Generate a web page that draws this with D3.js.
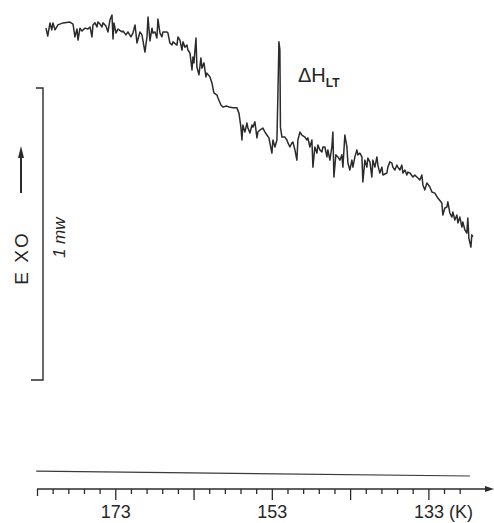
<!DOCTYPE html>
<html>
<head>
<meta charset="utf-8">
<script src="https://cdn.jsdelivr.net/npm/d3@7"></script>
<style>
  body { margin: 0; background: #fff; }
  svg text { font-family: "Liberation Sans", Arial, sans-serif; fill: #262626; }
  .trace { fill: none; stroke: #2b2b2b; stroke-width: 1.5; stroke-linejoin: round; }
  .base { fill: none; stroke: #3a3a3a; stroke-width: 1.1; }
  .axis path, .axis line { stroke: #2b2b2b; stroke-width: 1.3; }
</style>
</head>
<body>
<div id="chart"></div>
<script>
// DSC trace: temperature (K) and heat flow (mW, arbitrary zero)
var tempK = [
  181.85, 181.63, 181.34, 181.12, 180.96, 180.70, 180.32, 179.68, 178.79, 178.40,
  178.15, 177.89, 177.76, 177.51, 177.25, 176.87, 176.49, 176.23, 175.98, 175.85,
  175.59, 175.34, 175.21, 174.95, 174.70, 174.57, 174.19, 173.93, 173.68, 173.42,
  173.29, 173.17, 172.91, 172.66, 172.14, 172.02, 171.63, 171.38, 171.00, 170.74,
  170.48, 170.36, 170.23, 169.85, 169.59, 169.21, 168.95, 168.82, 168.57, 168.31,
  168.19, 167.93, 167.68, 167.55, 167.29, 167.04, 166.91, 166.40, 166.27, 166.02,
  165.76, 165.63, 165.12, 164.99, 164.74, 164.48, 164.35, 164.10, 163.84, 163.72,
  163.46, 163.20, 163.08, 162.95, 162.69, 162.57, 162.31, 162.06, 161.93, 161.67,
  161.42, 161.29, 160.91, 160.65, 160.40, 160.01, 159.88, 159.50, 159.25, 158.74,
  158.48, 157.97, 157.46, 157.20, 156.95, 156.82, 156.69, 156.44, 156.18, 156.05,
  155.80, 155.54, 155.41, 155.16, 154.90, 154.78, 154.52, 154.14, 153.88, 153.63,
  153.37, 152.99, 152.86, 152.60, 152.35, 152.22, 152.09, 151.97, 151.90, 151.71,
  151.33, 151.07, 150.94, 150.69, 150.43, 150.31, 150.05, 149.80, 149.67, 149.41,
  149.16, 148.77, 148.52, 148.39, 148.14, 147.88, 147.75, 147.50, 147.24, 147.11,
  146.86, 146.60, 146.47, 146.22, 145.96, 145.84, 145.58, 145.33, 145.20, 145.07,
  144.82, 144.56, 144.30, 144.05, 143.92, 143.67, 143.41, 143.28, 143.03, 142.77,
  142.64, 142.39, 142.13, 142.01, 141.75, 141.49, 141.37, 141.11, 140.86, 140.73,
  140.47, 140.22, 140.09, 139.83, 139.58, 139.45, 139.20, 138.94, 138.81, 138.30,
  138.17, 137.92, 137.66, 137.54, 137.28, 137.02, 136.90, 136.64, 136.39, 136.26,
  136.00, 135.75, 135.62, 135.36, 134.98, 134.73, 134.34, 134.09, 133.83, 133.70,
  133.45, 133.19, 132.81, 132.55, 132.17, 131.79, 131.28, 131.15, 130.89, 130.64,
  130.51, 130.26, 130.00, 129.87, 129.62, 129.36, 129.23, 128.98, 128.72, 128.60,
  128.34, 128.09, 127.96, 127.83, 127.57, 127.45, 127.32
];
var heatFlow = [
  1.205, 1.178, 1.223, 1.199, 1.223, 1.199, 1.216, 1.223, 1.226, 1.219,
  1.175, 1.202, 1.164, 1.205, 1.195, 1.205, 1.202, 1.209, 1.175, 1.216,
  1.223, 1.209, 1.226, 1.219, 1.209, 1.223, 1.212, 1.192, 1.233, 1.250,
  1.168, 1.223, 1.188, 1.202, 1.192, 1.195, 1.182, 1.192, 1.175, 1.188,
  1.216, 1.188, 1.154, 1.192, 1.182, 1.123, 1.175, 1.243, 1.161, 1.205,
  1.188, 1.192, 1.171, 1.236, 1.188, 1.175, 1.192, 1.192, 1.188, 1.154,
  1.147, 1.158, 1.147, 1.175, 1.164, 1.130, 1.158, 1.140, 1.147, 1.130,
  1.120, 1.062, 1.106, 1.086, 1.171, 1.072, 1.045, 1.103, 1.068, 1.086,
  1.038, 1.051, 1.038, 1.017, 0.983, 0.976, 0.966, 0.942, 0.935, 0.938,
  0.935, 0.932, 0.932, 0.914, 0.866, 0.822, 0.873, 0.849, 0.880, 0.863,
  0.846, 0.873, 0.866, 0.884, 0.829, 0.849, 0.856, 0.863, 0.849, 0.839,
  0.829, 0.777, 0.822, 0.798, 0.822, 0.983, 1.158, 1.130, 0.866, 0.832,
  0.832, 0.822, 0.812, 0.798, 0.812, 0.815, 0.788, 0.753, 0.822, 0.849,
  0.839, 0.832, 0.822, 0.829, 0.798, 0.822, 0.729, 0.798, 0.777, 0.805,
  0.788, 0.781, 0.798, 0.798, 0.764, 0.788, 0.753, 0.798, 0.849, 0.695,
  0.771, 0.764, 0.753, 0.771, 0.729, 0.839, 0.798, 0.743, 0.719, 0.753,
  0.729, 0.764, 0.788, 0.771, 0.777, 0.764, 0.678, 0.753, 0.729, 0.760,
  0.747, 0.695, 0.753, 0.729, 0.764, 0.736, 0.709, 0.729, 0.702, 0.709,
  0.729, 0.747, 0.743, 0.729, 0.719, 0.736, 0.729, 0.719, 0.736, 0.709,
  0.719, 0.702, 0.712, 0.709, 0.695, 0.702, 0.692, 0.685, 0.702, 0.668,
  0.651, 0.675, 0.661, 0.644, 0.640, 0.623, 0.606, 0.565, 0.589, 0.592,
  0.610, 0.572, 0.558, 0.575, 0.548, 0.565, 0.538, 0.558, 0.524, 0.541,
  0.514, 0.503, 0.555, 0.486, 0.455, 0.497, 0.490
];

// instrument baseline under the trace
var baseTemp = [183.1, 127.7];
var baseFlow = [-0.312, -0.329];

// temperature axis
var axisTicks = d3.range(183, 128, -2);
var labelTicks = [173, 153, 133];
var scaleBar = [0, 1];   // 1 mW

var width = 494;
var height = 523;

var svg = d3.select("#chart").append("svg")
    .attr("width", width)
    .attr("height", height);

var x = d3.scaleLinear().domain([183, 125]).range([37, 491]);
var y = d3.scaleLinear().domain([0, 1]).range([380, 88]);

var trace = tempK.map(function(t, i) { return [t, heatFlow[i]]; });
var base = baseTemp.map(function(t, i) { return [t, baseFlow[i]]; });

var line = d3.line()
    .x(function(d) { return x(d[0]); })
    .y(function(d) { return y(d[1]); });

svg.append("path").attr("class", "base").attr("d", line(base));
svg.append("path").attr("class", "trace").attr("d", line(trace));

// x axis, ticks pointing down, labels every 20 K
var axisY = 489;
var gx = svg.append("g")
    .attr("class", "axis")
    .attr("transform", "translate(0," + axisY + ")")
    .call(d3.axisBottom(x)
        .tickValues(axisTicks)
        .tickSizeOuter(0)
        .tickSize(5)
        .tickPadding(11)
        .tickFormat(function(d) { return labelTicks.indexOf(d) >= 0 ? d : ""; }));

gx.selectAll(".tick line")
    .attr("y2", function(d) {
        if (d === 183) return 7;
        return (d - 133) % 10 === 0 ? 11 : 5;
    });
gx.selectAll(".tick text")
    .style("font-size", "18px")
    .attr("fill", "#262626")
    .each(function(d) {
        if (d === 133) {
            d3.select(this).text("133 (K)").attr("text-anchor", "start").attr("dx", -15);
        }
    });
gx.select(".domain").attr("d", "M" + x(183) + ",0H" + x(125));

// arrow head at the end of the temperature axis
svg.append("path")
    .attr("d", "M" + (x(125) + 3) + "," + axisY + "l-9,-3l0,6z")
    .attr("fill", "#2b2b2b");

// 1 mW scale bar
var barX = 43;
svg.append("path")
    .attr("d", "M" + (barX - 7) + "," + y(scaleBar[1]) + "H" + barX +
               "V" + y(scaleBar[0]) + "H" + (barX - 12))
    .attr("fill", "none")
    .attr("stroke", "#2b2b2b")
    .attr("stroke-width", 1.4);

svg.append("text")
    .attr("transform", "translate(65," + y(0.487) + ") rotate(-90)")
    .attr("text-anchor", "middle")
    .style("font-size", "17px")
    .style("font-style", "italic")
    .text("1 mw");

// EXO and its arrow
svg.append("text")
    .attr("transform", "translate(28," + y(0.418) + ") rotate(-90)")
    .attr("text-anchor", "middle")
    .style("font-size", "19px")
    .style("letter-spacing", "2px")
    .text("E XO");

svg.append("line")
    .attr("x1", 21).attr("x2", 21)
    .attr("y1", 193).attr("y2", 156)
    .attr("stroke", "#2b2b2b").attr("stroke-width", 2);
svg.append("path")
    .attr("d", "M21,146l-3,12h6z")
    .attr("fill", "#2b2b2b");

// transition label
var lbl = svg.append("text")
    .attr("x", 298)
    .attr("y", 82)
    .style("font-size", "20px");
lbl.append("tspan").text("ΔH");
lbl.append("tspan")
    .attr("dy", 5)
    .style("font-size", "12px")
    .style("font-weight", "bold")
    .text("LT");
</script>
</body>
</html>
